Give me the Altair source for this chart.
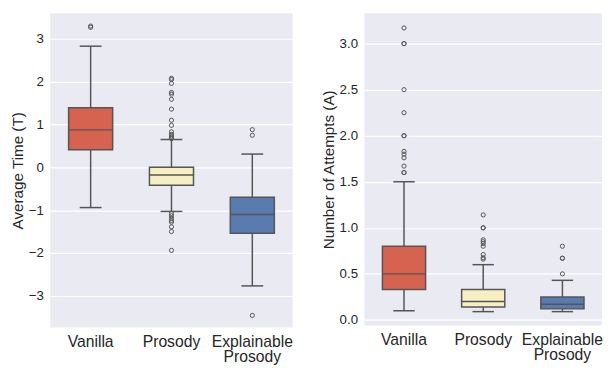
import altair as alt
import pandas as pd

cats = ["Vanilla", "Prosody", "Explainable Prosody"]
colors = ["#d66250", "#f6efc4", "#5a7ab0"]

# Average Time (T) box statistics
time_lo = [-0.94, -1.03, -2.77]
time_q1 = [0.41, -0.42, -1.54]
time_med = [0.875, -0.18, -1.10]
time_q3 = [1.39, 0.00, -0.70]
time_hi = [2.83, 0.65, 0.31]
time_out_vanilla = [3.27, 3.30]
time_out_prosody = [2.08, 2.05, 1.96, 1.75, 1.71, 1.59, 1.36, 1.10, 0.98, 0.83, 0.77,
                    0.73, 0.70, 0.67, -1.08, -1.13, -1.19, -1.24, -1.28, -1.39, -1.50, -1.94]
time_out_expl = [0.88, 0.75, -3.46]

# Number of Attempts (A) box statistics
att_lo = [0.10, 0.09, 0.09]
att_q1 = [0.33, 0.14, 0.12]
att_med = [0.50, 0.20, 0.17]
att_q3 = [0.80, 0.33, 0.25]
att_hi = [1.50, 0.60, 0.43]
att_out_vanilla = [3.17, 3.0, 3.0, 2.5, 2.25, 2.0, 2.0, 1.83, 1.80, 1.76, 1.67, 1.60, 1.60]
att_out_prosody = [1.14, 1.0, 1.0, 0.87, 0.85, 0.83, 0.80, 0.71, 0.675, 0.66]
att_out_expl = [0.80, 0.67, 0.67, 0.50]

time_ticks = [-3, -2, -1, 0, 1, 2, 3]
att_ticks = [0.0, 0.5, 1.0, 1.5, 2.0, 2.5, 3.0]

LINE = "#555555"
TEXT = "#262626"


def make_panel(lo, q1, med, q3, hi, outs, title, domain, ticks, fmt, w, h, band_px):
    stats = pd.DataFrame({"cat": cats, "lo": lo, "q1": q1, "med": med, "q3": q3, "hi": hi})
    rows = []
    for c, vals in zip(cats, outs):
        for v in vals:
            rows.append({"cat": c, "v": v})
    outl = pd.DataFrame(rows)

    x = alt.X("cat:N", sort=cats, title=None,
              scale=alt.Scale(domain=cats, paddingInner=0, paddingOuter=0),
              axis=alt.Axis(labelAngle=0, labelFontSize=16, labelPadding=6,
                            labelBaseline="top", labelLineHeight=16, grid=False,
                            labelExpr="datum.value == 'Explainable Prosody' ? ['Explainable', 'Prosody'] : datum.value"))
    yscale = alt.Scale(domain=domain, nice=False, zero=False)
    yaxis = alt.Axis(values=ticks, format=fmt, title=title, titleFontSize=15.5,
                     titleFontWeight="normal", labelFontSize=13.5, labelPadding=7,
                     titlePadding=3, grid=True)

    base = alt.Chart(stats)
    wl = base.mark_rule(color=LINE, strokeWidth=1.5).encode(
        x=x, y=alt.Y("lo:Q", scale=yscale, axis=yaxis), y2="q1:Q")
    wh = base.mark_rule(color=LINE, strokeWidth=1.5).encode(x=x, y="q3:Q", y2="hi:Q")
    cl = base.mark_tick(color=LINE, size=band_px * 0.27, thickness=1.5, opacity=1).encode(x=x, y="lo:Q")
    ch = base.mark_tick(color=LINE, size=band_px * 0.27, thickness=1.5, opacity=1).encode(x=x, y="hi:Q")
    box = base.mark_bar(width=alt.RelativeBandSize(0.545), stroke=LINE, strokeWidth=1.5).encode(
        x=x, y="q1:Q", y2="q3:Q",
        color=alt.Color("cat:N", scale=alt.Scale(domain=cats, range=colors), legend=None))
    md = base.mark_tick(color=LINE, size=band_px * 0.545, thickness=1.5, opacity=1).encode(x=x, y="med:Q")
    pts = alt.Chart(outl).mark_point(shape="circle", filled=False, size=18, color=LINE,
                                     strokeWidth=1, opacity=1).encode(x=x, y="v:Q")
    return alt.layer(wl, wh, cl, ch, box, md, pts).properties(width=w, height=h)


left = make_panel(time_lo, time_q1, time_med, time_q3, time_hi,
                  [time_out_vanilla, time_out_prosody, time_out_expl],
                  "Average Time (T)", [-3.74, 3.60], time_ticks, "d", 247, 320, 247 / 3)
right = make_panel(att_lo, att_q1, att_med, att_q3, att_hi,
                   [att_out_vanilla, att_out_prosody, att_out_expl],
                   "Number of Attempts (A)", [-0.06, 3.33], att_ticks, ".1f", 242, 318, 242 / 3)
right = right.properties(title=alt.TitleParams(text=" ", fontSize=1, offset=1))

chart = alt.hconcat(left, right, spacing=29).properties(
    padding={"left": 2, "top": 0, "right": 0, "bottom": 0}
).configure(font="Liberation Sans").configure_view(
    fill="#eaeaf2", stroke=None
).configure_axis(
    domain=False, ticks=False, labelColor=TEXT, titleColor=TEXT,
    gridColor="white", gridWidth=1.2, labelFont="Liberation Sans", titleFont="Liberation Sans"
)

chart.save("out.html", embed_options={"renderer": "svg", "actions": False})
